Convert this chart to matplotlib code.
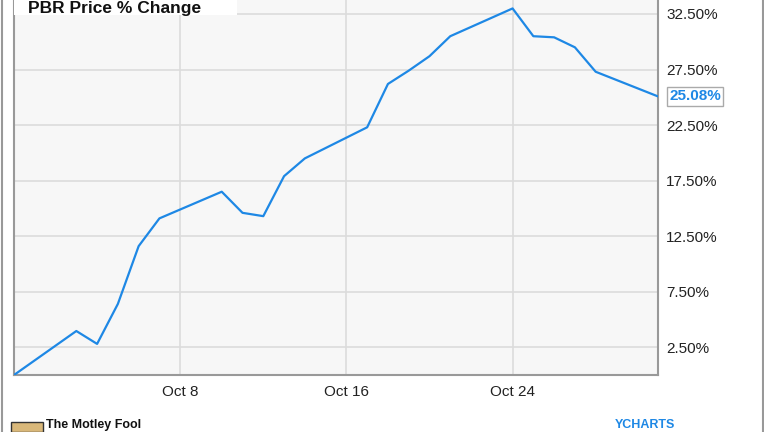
import numpy as np
import matplotlib.pyplot as plt
import matplotlib.dates as mdates
from matplotlib.patches import Rectangle

plt.rcParams['font.family'] = ['Liberation Sans', 'DejaVu Sans']

# PBR % change, trading days Sep 30 - Oct 31 2016
dates = np.array(['2016-09-30', '2016-10-03', '2016-10-04', '2016-10-05', '2016-10-06',
                  '2016-10-07', '2016-10-10', '2016-10-11', '2016-10-12', '2016-10-13',
                  '2016-10-14', '2016-10-17', '2016-10-18', '2016-10-19', '2016-10-20',
                  '2016-10-21', '2016-10-24', '2016-10-25', '2016-10-26', '2016-10-27',
                  '2016-10-28', '2016-10-31'], dtype='datetime64[D]')
pct = [0.0, 3.96, 2.8, 6.4, 11.6, 14.1, 16.5, 14.6, 14.3, 17.9, 19.5, 22.3,
       26.2, 27.4, 28.7, 30.5, 33.0, 30.5, 30.4, 29.5, 27.3, 25.08]
yticks = [2.5, 7.5, 12.5, 17.5, 22.5, 27.5, 32.5]
xticks = ['2016-10-08', '2016-10-16', '2016-10-24']

fig = plt.figure(figsize=(7.64, 4.32), dpi=100)
ax = fig.add_axes([14/764, 1 - 375/432, 644/764, 375/432])
ax.set_facecolor('#f7f7f7')

ax.plot(dates, pct, color='#1e88e5', lw=1.6, zorder=3)

ax.set_xlim(np.datetime64('2016-09-30'), np.datetime64('2016-10-31'))
ax.set_ylim(0, 33.76)
ax.set_yticks(yticks)
ax.set_yticklabels(['{:.2f}%'.format(v) for v in yticks])
ax.set_xticks(np.array(xticks, dtype='datetime64[D]'))
ax.xaxis.set_major_formatter(mdates.DateFormatter('Oct %-d'))
ax.yaxis.tick_right()
ax.tick_params(length=0, labelsize=11, colors='#222222', pad=7)
ax.tick_params(axis='y', pad=6)
ax.grid(True, color='#dcdcdc', lw=1.2)
ax.set_axisbelow(True)
for s in ['left', 'bottom', 'right']:
    ax.spines[s].set_color('#999999')
    ax.spines[s].set_linewidth(1.5)
ax.spines['top'].set_visible(False)

# last value label
ax.annotate('{:.2f}%'.format(pct[-1]), xy=(dates[-1], pct[-1]), xytext=(8, 0),
            textcoords='offset points', va='center', ha='left', color='#1e88e5',
            fontsize=11, fontweight='bold', annotation_clip=False,
            bbox=dict(boxstyle='square,pad=0.15', fc='white', ec='#aaaaaa', lw=1))

# title box at top left
fig.patches.append(Rectangle((14/764, 1 - 15/432), 223/764, 15/432, transform=fig.transFigure,
                             fc='white', ec='none', zorder=2))
fig.text(28/764, 1 - 1/432, 'PBR Price % Change', fontsize=12.5, fontweight='bold',
         color='#111111', va='top', ha='left', zorder=5)

# frame lines left and right
for xf in [2/764, 762.5/764]:
    fig.add_artist(plt.Line2D([xf, xf], [0, 1], transform=fig.transFigure,
                              color='#999999', lw=1.5))

# footer
fig.patches.append(Rectangle((11/764, 0), 32/764, 10/432, transform=fig.transFigure,
                             fc='#d9b87a', ec='#333333', lw=1))
fig.text(46/764, 1/432, 'The Motley Fool', fontsize=9, fontweight='bold',
         color='#111111', va='bottom', ha='left')
fig.text(615/764, 1/432, 'YCHARTS', fontsize=9, fontweight='bold',
         color='#1e88e5', va='bottom', ha='left')

fig.savefig('out.png', dpi=100, facecolor='white')
